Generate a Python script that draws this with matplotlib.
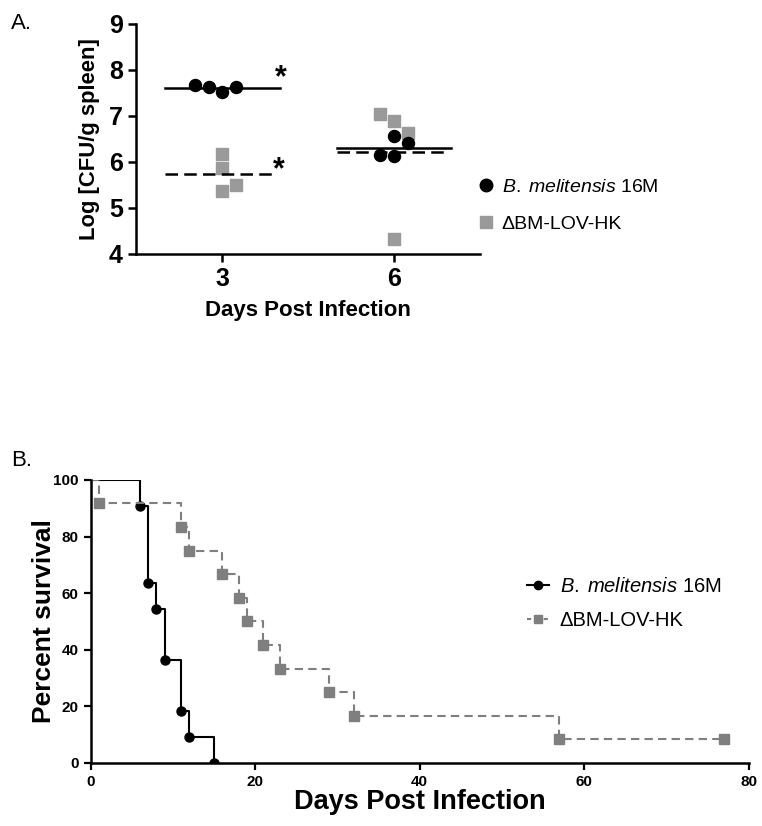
import numpy as np
import matplotlib
matplotlib.use("Agg")
import matplotlib.pyplot as plt
from matplotlib.lines import Line2D

plt.rcParams['font.family'] = ['Liberation Sans', 'DejaVu Sans']
plt.rcParams['mathtext.fontset'] = 'custom'
plt.rcParams['mathtext.it'] = 'Liberation Sans:italic'
plt.rcParams['mathtext.rm'] = 'Liberation Sans'

# ---- Panel A data: log CFU per g spleen ----
wt_d3_x = [2.52, 2.76, 3.0, 3.24]
wt_d3_y = [7.67, 7.62, 7.53, 7.64]
mut_d3_x = [3.0, 3.0, 3.0, 3.24]
mut_d3_y = [6.18, 5.86, 5.38, 5.50]
wt_d6_x = [6.0, 6.24, 5.76, 6.0]
wt_d6_y = [6.56, 6.42, 6.15, 6.12]
mut_d6_x = [5.76, 6.0, 6.24, 6.0]
mut_d6_y = [7.05, 6.88, 6.64, 4.33]
days_a = [3, 6]

# ---- Panel B data: Kaplan-Meier survival ----
wt_days = [0, 6, 7, 8, 9, 11, 12, 15]
wt_surv = [100, 90.9, 63.6, 54.5, 36.4, 18.2, 9.1, 0]
mut_days = [0, 1, 11, 12, 16, 18, 19, 21, 23, 29, 32, 57, 77]
mut_surv = [100, 91.7, 83.3, 75, 66.7, 58.3, 50, 41.7, 33.3, 25, 16.7, 8.3, 8.3]

label_wt = r"$\mathit{B.\;melitensis}$ 16M"
label_mut = "\u0394BM-LOV-HK"
gray_a = '#9a9a9a'
gray_b = '#7f7f7f'

fig = plt.figure(figsize=(7.62, 8.26), dpi=100)

# ================= Panel A =================
ax1 = fig.add_axes([0.1785, 0.6925, 0.4514, 0.2785])
ax1.scatter(wt_d3_x + wt_d6_x, wt_d3_y + wt_d6_y, s=75, marker='o', color='black', zorder=3)
ax1.scatter(mut_d3_x + mut_d6_x, mut_d3_y + mut_d6_y, s=75, marker='s', color=gray_a, zorder=2)

ax1.plot([2, 4], [np.mean(wt_d3_y)] * 2, color='black', lw=1.8)
ax1.plot([2, 3.92], [np.mean(mut_d3_y)] * 2, color='black', lw=1.8, ls=(0, (5, 2.5)))
ax1.plot([5, 7], [np.mean(wt_d6_y)] * 2, color='black', lw=1.8)
ax1.plot([5, 6.95], [np.mean(mut_d6_y)] * 2, color='black', lw=1.8, ls=(0, (5, 2.5)))

ax1.text(4.02, 7.83, '*', fontsize=22, fontweight='bold', ha='center', va='center')
ax1.text(3.98, 5.83, '*', fontsize=22, fontweight='bold', ha='center', va='center')

ax1.set_xlim(1.49, 7.5)
ax1.set_ylim(4, 9)
ax1.set_xticks(days_a)
ax1.set_yticks([4, 5, 6, 7, 8, 9])
ax1.tick_params(labelsize=18, width=1.8, length=6)
for lab in ax1.get_xticklabels() + ax1.get_yticklabels():
    lab.set_fontweight('bold')
for s in ['top', 'right']:
    ax1.spines[s].set_visible(False)
for s in ['left', 'bottom']:
    ax1.spines[s].set_linewidth(1.8)
ax1.set_ylabel('Log [CFU/g spleen]', fontsize=15.8, fontweight='bold', labelpad=6)
ax1.set_xlabel('Days Post Infection', fontsize=16, fontweight='bold', labelpad=6)

h1 = [Line2D([], [], marker='o', color='black', ls='none', markersize=9),
      Line2D([], [], marker='s', color=gray_a, ls='none', markersize=9)]
ax1.legend(h1, [label_wt, label_mut], loc='center left', bbox_to_anchor=(0.99, 0.21),
           frameon=False, fontsize=14, handlelength=1.0, handletextpad=0.3,
           labelspacing=1.0, borderaxespad=0, borderpad=0)

fig.text(0.015, 0.972, 'A.', fontsize=16, va='center')

# ================= Panel B =================
ax2 = fig.add_axes([0.119, 0.0766, 0.8633, 0.3423])
ax2.step(wt_days, wt_surv, where='post', color='black', lw=1.5)
ax2.plot(wt_days[1:], wt_surv[1:], 'o', color='black', markersize=6.5)
ax2.step(mut_days, mut_surv, where='post', color=gray_b, lw=1.5, ls=(0, (4, 2.5)))
ax2.plot(mut_days[1:], mut_surv[1:], 's', color=gray_b, markersize=6.5)

ax2.set_xlim(0, 80)
ax2.set_ylim(0, 100)
ax2.set_xticks([0, 20, 40, 60, 80])
ax2.set_yticks([0, 20, 40, 60, 80, 100])
ax2.tick_params(labelsize=11, width=1.6, length=5)
for lab in ax2.get_xticklabels() + ax2.get_yticklabels():
    lab.set_fontweight('bold')
for s in ['top', 'right']:
    ax2.spines[s].set_visible(False)
for s in ['left', 'bottom']:
    ax2.spines[s].set_linewidth(1.8)
ax2.set_ylabel('Percent survival', fontsize=19, fontweight='bold', labelpad=-2)
ax2.set_xlabel('Days Post Infection', fontsize=19.5, fontweight='bold', labelpad=0)

h2 = [Line2D([], [], marker='o', color='black', lw=1.5, markersize=6),
      Line2D([], [], marker='s', color=gray_b, lw=1.5, ls=(0, (2, 2)), markersize=6)]
ax2.legend(h2, [label_wt, label_mut], loc='center left', bbox_to_anchor=(0.664, 0.563),
           frameon=False, fontsize=14.5, handlelength=1.05, handletextpad=0.55,
           labelspacing=0.7, borderaxespad=0, borderpad=0)

fig.text(0.015, 0.443, 'B.', fontsize=16, va='center')

fig.savefig('out.png', dpi=100)
